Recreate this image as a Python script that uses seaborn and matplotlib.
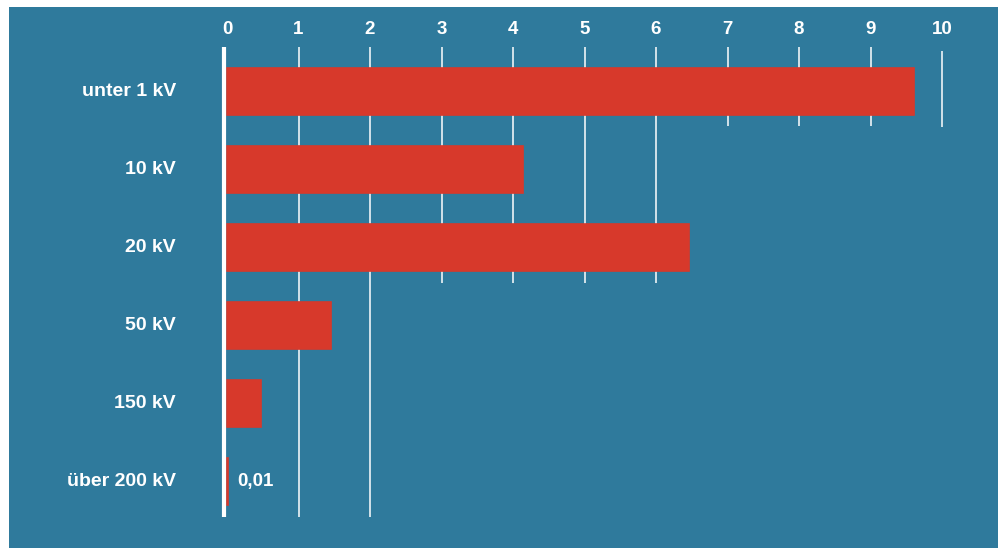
import matplotlib
matplotlib.use("Agg")
import matplotlib.pyplot as plt
import seaborn as sns
import pandas as pd
from matplotlib.patches import Rectangle

# ---- data ----
categories = ["unter 1 kV", "10 kV", "20 kV", "50 kV", "150 kV", "über 200 kV"]
values = [9.61, 4.14, 6.46, 1.45, 0.47, 0.01]
tick_values = [0, 1, 2, 3, 4, 5, 6, 7, 8, 9, 10]
tick_labels = ["0", "1", "2", "3", "4", "5", "6", "7", "8", "9", "10"]
note_text = "0,01"

# ---- style ----
BLUE = "#2f7a9c"
RED = "#d7392b"
WHITE = "#ffffff"

sns.set_theme(style="white")
plt.rcParams["font.family"] = ["Liberation Sans", "DejaVu Sans"]

W, H = 1004, 551
fig = plt.figure(figsize=(W / 100, H / 100), dpi=100, facecolor="white")
ax = fig.add_axes([0, 0, 1, 1])
ax.patch.set_visible(False)

# pixel mapping helpers (layout only)
x0_px, x_unit = 227.0, 71.5
y0_px, y_unit = 91.5, 78.0

# blue panel
ax.add_patch(Rectangle((9 / W, 1 - 548 / H), (998 - 9) / W, (548 - 7) / H,
                       transform=fig.transFigure, facecolor=BLUE,
                       edgecolor="none", zorder=-10))

df = pd.DataFrame({"cat": categories, "val": values})
sns.barplot(data=df, x="val", y="cat", orient="h", color=RED, saturation=1,
            width=0.6, linewidth=1.2, edgecolor=RED, ax=ax, zorder=3)

ax.set_xlim(-x0_px / x_unit, (W - x0_px) / x_unit)
ax.set_ylim((H - y0_px) / y_unit, -y0_px / y_unit)
ax.set_xticks([])
ax.set_yticks([])
ax.set_xlabel("")
ax.set_ylabel("")
for s in ax.spines.values():
    s.set_visible(False)

# grid lines (lengths vary as in the original)
top = (47 - y0_px) / y_unit
bottoms = {1: 517, 2: 517, 3: 283, 4: 283, 5: 283, 6: 283,
           7: 126, 8: 126, 9: 126, 10: 127}
for t in tick_values[1:]:
    tp = top if t != 10 else (51 - y0_px) / y_unit
    ax.vlines(t, tp, (bottoms[t] - y0_px) / y_unit, color=WHITE, lw=1.1, zorder=1)
# thick zero line
ax.vlines(-0.035, top, (517 - y0_px) / y_unit, color=WHITE, lw=3.0, zorder=4)

# tick labels on top
ty = (30 - y0_px) / y_unit
for t, lab in zip(tick_values, tick_labels):
    ax.text(t, ty, lab, color=WHITE, fontsize=13.5, fontweight="bold",
            ha="center", va="center")

# category labels
lx = (176 - x0_px) / x_unit
for i, c in enumerate(categories):
    ax.text(lx, i, c, color=WHITE, fontsize=14, fontweight="bold",
            ha="right", va="center")

# note for smallest value
ax.text((237 - x0_px) / x_unit, len(categories) - 1, note_text, color=WHITE,
        fontsize=13.5, fontweight="bold", ha="left", va="center")

fig.savefig("out.png", dpi=100, facecolor="white")
